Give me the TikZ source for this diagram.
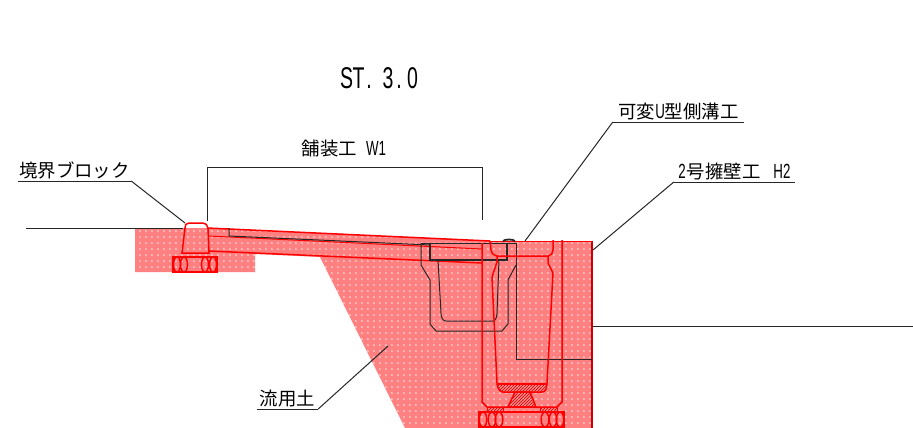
\documentclass[tikz,border=0pt]{standalone}
\usepackage{fontspec}
\usepackage{xcolor}
\usepackage{tikz}
\usetikzlibrary{patterns}
\usetikzlibrary{patterns.meta}
\newfontfamily\jpfont{Noto Sans CJK JP}
\newfontfamily\latfont[FakeStretch=0.65]{Liberation Sans}
\newcommand{\halfw}[1]{{\latfont\fontsize{20.5}{18}\selectfont #1}}
\newcommand{\titlecell}[2]{\makebox[#1pt][c]{#2}}
\definecolor{soilred}{RGB}{255,128,128}
\tikzset{
  callout/.style={inner xsep=0pt, inner ysep=1.5pt, anchor=south, align=center, font=\jpfont\fontsize{18.4}{20}\selectfont},
  leader/.style={black!85, line width=1pt},
  wall/.style={red, line width=1.5pt},
  gutter/.style={black!85, line width=1pt},
  hatchred/.style={pattern=north east lines, pattern color=red!80!black}
}
\begin{document}
\begin{tikzpicture}[x=1pt,y=-1pt]
\useasboundingbox (0,0) rectangle (913,428);

% soil and pavement area
\fill [soilred] (135,228) -- (207,228) -- (490,241) -- (592,241) -- (592,428) -- (405,428) -- (320,257) -- (255,254) -- (255,272) -- (135,272) -- cycle;
\fill [pattern={Dots[distance=6.4pt,radius=1.2pt]}, pattern color=white!80!red] (135,228) -- (207,228) -- (490,241) -- (592,241) -- (592,428) -- (405,428) -- (320,257) -- (255,254) -- (255,272) -- (135,272) -- cycle;

% ground lines
\draw [leader] (26,228) -- (183,228);
\draw [leader] (592,326) -- (913,326);

% pavement
\draw [wall] (207,228) -- (490,241);
\draw [wall, line width=1pt] (209,236) -- (482,249);
\draw [wall] (209,251) -- (482,263);
\draw [gutter] (229,228) -- (229,236) -- (430,245);
\draw [red!80!black, line width=1.2pt] (592,241) -- (592,428);
\draw [red, line width=1pt] (490,241) -- (592,241);
\draw [red, line width=1pt] (405,428) -- (592,428);

% curb block
\draw [wall] (182,253) -- (185,228) .. controls (185,225) and (186,223) .. (189,223) -- (203,223) .. controls (206,223) and (207,225) .. (208,228) -- (209,253) -- cycle;
\draw [wall] (180,257) -- (209,257);
\draw [wall] (173,257) rectangle (217,272);
\foreach \ex in {177,184,205,213}
  \draw [wall] (\ex,264.5) ellipse [x radius=3.5, y radius=7.5];

% side gutter
\draw [gutter] (421,243) -- (516,243);
\draw [gutter] (421,243) -- (421,265) -- (430,280) -- (430,324) -- (436,331) -- (502,331) -- (508,324) -- (508,280) -- (516,265);
\draw [gutter, line width=1.5pt] (430,243) -- (430,260) -- (507,260) -- (507,243);
\draw [gutter] (438,260) -- (441,313) .. controls (441,318) and (443,321) .. (446,321) -- (493,321) .. controls (495,321) and (497,318) .. (497,313) -- (499,260);
\draw [gutter, line width=1.8pt] (503,241) .. controls (505,239) and (513,239) .. (515,241);
\draw [gutter] (516,243) -- (516,359) -- (592,359);

% retaining wall
\draw [wall] (482,243) -- (482,402) -- (487,407) -- (557,407) -- (562,402) -- (562,240);
\draw [wall] (490,241) -- (491,250) .. controls (492,254) and (494,256) .. (497,256) -- (548,256) .. controls (551,256) and (553,253) .. (553,250) -- (553,240);
\draw [wall] (497,256) -- (497,262) -- (492,277) -- (497,383);
\draw [wall] (548,256) -- (548,263) -- (553,273) -- (547,383);
\draw [wall] (497,384) -- (547,384);
\draw [wall, hatchred] (497,384) .. controls (498,389) and (500,392) .. (503,392) -- (542,392) .. controls (545,392) and (547,389) .. (547,384) -- cycle;
\draw [wall, hatchred] (515,392) -- (508,407) -- (536,407) -- (530,392) -- cycle;
\draw [wall, line width=1pt, hatchred] (487,407) rectangle (503,412);
\draw [wall, line width=1pt, hatchred] (540,407) rectangle (557,412);
\draw [wall] (479,412) -- (564,412) -- (564,427) -- (479,427) -- cycle;
\foreach \ex in {483,492,499,545,553,560}
  \draw [wall] (\ex,419.5) ellipse [x radius=3.8, y radius=7.5];

% labels
\node [font=\latfont\fontsize{30}{33}\selectfont, inner sep=0pt] (title) at (379.5,78) {\titlecell{12}{S}\titlecell{12}{T}\titlecell{9}{.}\hspace{8.5pt}\titlecell{12}{3}\titlecell{10}{.}\hspace{2.5pt}\titlecell{12}{0}};
\node [callout, minimum width=113pt] (curblabel) at (74.5,181) {境界ブロック};
\node [callout, minimum width=61pt] (soillabel) at (287.5,409) {流用土};
\node [callout, minimum width=131pt] (gutterlabel) at (678.5,122) {可変\halfw{U}型側溝工};
\node [callout, minimum width=121pt] (walllabel) at (734.5,182) {\halfw{2}\hspace{1pt}号擁壁工\halfw{\hspace{13pt}H2}};
\node [callout, minimum width=84pt] (pavelabel) at (344,159) {舗装工\halfw{\hspace{9pt}W1}};

% leaders
\coordinate (curbtip) at (185,223);
\coordinate (soiltip) at (388,346);
\coordinate (guttertip) at (525,241);
\coordinate (walltip) at (593,250);
\coordinate (paveleft) at (207,167);
\coordinate (paveright) at (482,167);
\draw [leader] (curblabel.south east) -- (curbtip);
\draw [leader] (curblabel.south west) -- (curblabel.south east);
\draw [leader] (soillabel.south east) -- (soiltip);
\draw [leader] (soillabel.south west) -- (soillabel.south east);
\draw [leader] (gutterlabel.south west) -- (guttertip);
\draw [leader] (gutterlabel.south west) -- (gutterlabel.south east);
\draw [leader] (walllabel.south west) -- (walltip);
\draw [leader] (walllabel.south west) -- (walllabel.south east);
\draw [leader] (207,221) -- (paveleft) -- (paveright) -- (482,220);

\end{tikzpicture}
\end{document}
